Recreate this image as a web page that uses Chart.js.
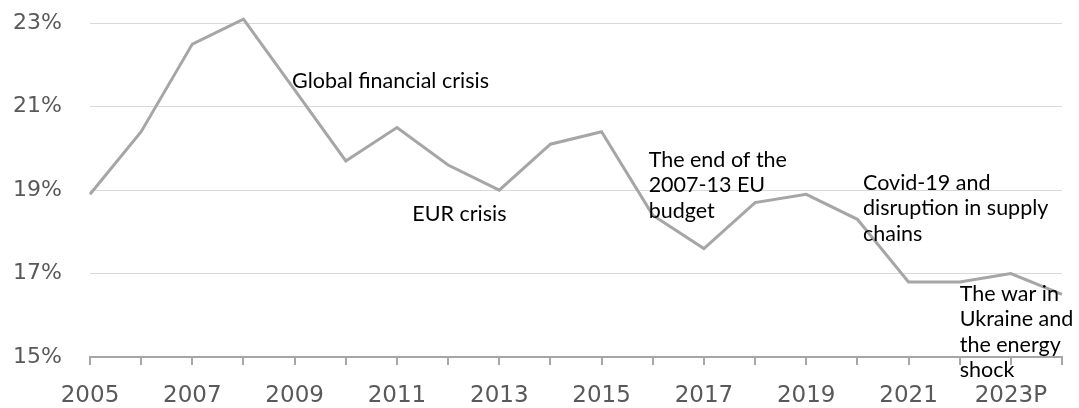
<!DOCTYPE html>
<html>
<head>
<meta charset="utf-8">
<script src="https://cdn.jsdelivr.net/npm/chart.js@4"></script>
<style>
  html, body { margin: 0; padding: 0; background: #fff; }
  #wrap { width: 1079px; height: 408px; }
</style>
</head>
<body>
<div id="wrap"><canvas id="chart"></canvas></div>
<script>
var YEARS = ['2005', '2006', '2007', '2008', '2009', '2010', '2011', '2012', '2013', '2014',
  '2015', '2016', '2017', '2018', '2019', '2020', '2021', '2022', '2023P', '2024P'];
var SHARE = [18.9, 20.4, 22.5, 23.1, 21.4, 19.7, 20.5, 19.6, 19.0, 20.1,
  20.4, 18.4, 17.6, 18.7, 18.9, 18.3, 16.8, 16.8, 17.0, 16.5];
var Y_TICKS = [15, 17, 19, 21, 23];

// notes: text lines, anchored at (category index, value) of the first line
var NOTE_TEXT = [
  ['Global financial crisis'],
  ['EUR crisis'],
  ['The end of the', '2007-13 EU', 'budget'],
  ['Covid-19 and', 'disruption in supply', 'chains'],
  ['The war in', 'Ukraine and', 'the energy', 'shock']
];
var NOTE_AT = [3.95, 6.3, 10.92, 15.11, 17.0];
var NOTE_VAL = [21.62, 18.42, 19.73, 19.18, 16.51];

var notesPlugin = {
  id: 'notes',
  afterDatasetsDraw: function(chart) {
    var c = chart.ctx;
    var x = chart.scales.x, y = chart.scales.y;
    c.save();
    c.font = '21.5px Lato';
    c.fillStyle = '#000';
    c.textAlign = 'left';
    c.textBaseline = 'middle';
    NOTE_TEXT.forEach(function(lines, i) {
      var px = x.getPixelForValue(NOTE_AT[i]);
      var py = y.getPixelForValue(NOTE_VAL[i]);
      lines.forEach(function(t, j) {
        c.fillText(t, px, py + j * 25.5);
      });
    });
    c.restore();
  }
};

var ctx = document.getElementById('chart');
var chart = new Chart(ctx, {
  type: 'line',
  data: {
    labels: YEARS,
    datasets: [{
      data: SHARE,
      borderColor: '#a6a6a6',
      borderWidth: 3,
      pointRadius: 0,
      tension: 0,
      fill: false
    }]
  },
  options: {
    responsive: true,
    maintainAspectRatio: false,
    animation: false,
    layout: { padding: { top: 0, right: 17, bottom: 0, left: 0 } },
    plugins: {
      legend: { display: false },
      tooltip: { enabled: false }
    },
    scales: {
      x: {
        offset: false,
        afterFit: function(scale) { scale.height = 51; },
        grid: {
          drawOnChartArea: false,
          drawTicks: true,
          tickLength: 8,
          color: '#a6a6a6',
          lineWidth: 2
        },
        border: { color: '#a6a6a6', width: 2 },
        ticks: {
          autoSkip: false,
          maxRotation: 0,
          padding: 17,
          color: '#595959',
          font: { family: 'DejaVu Sans', size: 23 },
          callback: function(v, i) {
            return i % 2 === 0 ? this.getLabelForValue(v) : '';
          }
        }
      },
      y: {
        min: 15,
        max: 23.24,
        afterBuildTicks: function(scale) {
          scale.ticks = Y_TICKS.map(function(v) { return { value: v }; });
        },
        afterFit: function(scale) { scale.width = 90; },
        grid: {
          color: '#d9d9d9',
          lineWidth: 1,
          drawTicks: true,
          tickLength: 28,
          tickColor: 'rgba(0,0,0,0)'
        },
        border: { display: false },
        ticks: {
          padding: 0,
          color: '#595959',
          font: { family: 'DejaVu Sans', size: 22 },
          callback: function(v) { return v + '%'; }
        }
      }
    }
  },
  plugins: [notesPlugin]
});
</script>
</body>
</html>
